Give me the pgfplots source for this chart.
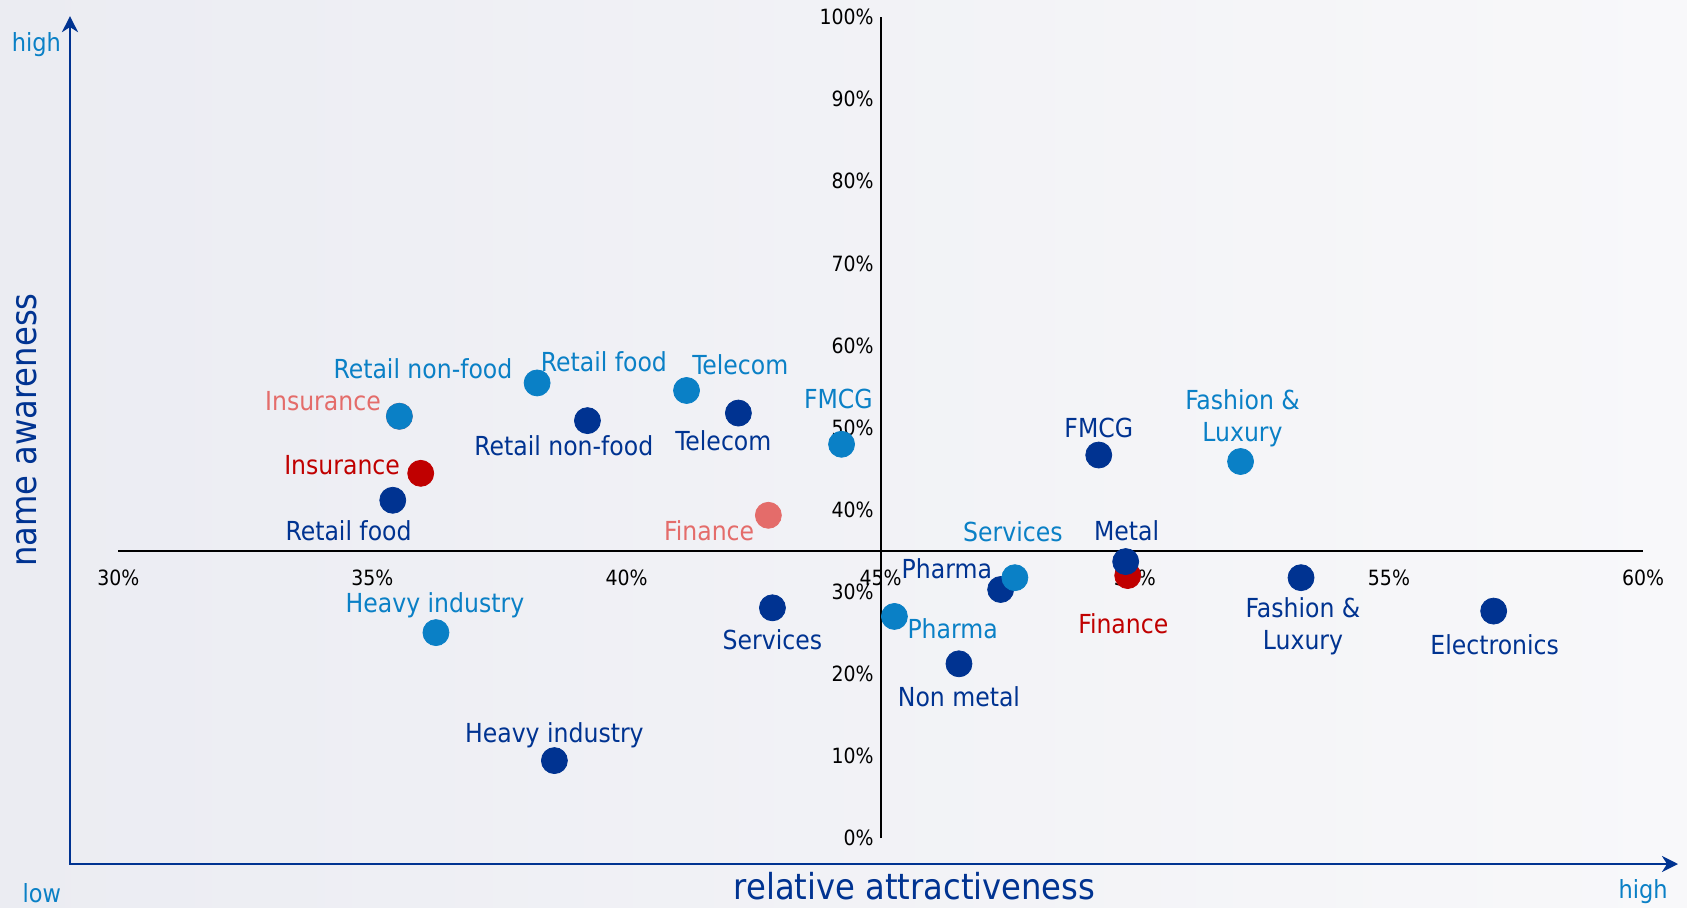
\documentclass[border=0pt]{standalone}
\usepackage{fontspec}
\setmainfont{DejaVu Sans Condensed}
\usepackage{pgfplots}
\pgfplotsset{compat=1.18}
\usepackage{pgfplotstable}
\usetikzlibrary{arrows.meta}

\definecolor{darkb}{HTML}{003391}
\definecolor{lightb}{HTML}{0A80C6}
\definecolor{redc}{HTML}{C00000}
\definecolor{salmon}{HTML}{E46C6A}
\definecolor{bgl}{HTML}{EBECF2}
\definecolor{bgr}{HTML}{F8F8FA}

% x = relative attractiveness (%), y = name awareness (%), dx/dy = label offset (pt)
\pgfplotstableread{
x y dx dy lbl
39.23 50.85 -11.8 -12.4 {Retail non-food}
42.20 51.77 -7.5 -14.0 {Telecom}
35.40 41.15 -22.1 -15.1 {Retail food}
49.29 46.66 0 13.5 {FMCG}
49.82 33.68 0.5 15.6 {Metal}
53.27 31.72 1 -24.2 {Fashion \&\\Luxury}
57.06 27.65 0.5 -16.7 {Electronics}
47.36 30.28 -26.9 10.2 {Pharma}
46.54 21.23 0 -16.7 {Non metal}
42.87 28.05 0 -16.1 {Services}
38.58 9.44 0 12.9 {Heavy industry}
}\darkdata

\pgfplotstableread{
x y dx dy lbl
35.53 51.38 11.8 23.7 {Retail non-food}
38.24 55.44 33.4 10.8 {Retail food}
41.18 54.52 26.9 12.9 {Telecom}
44.23 47.97 -1.6 22.6 {FMCG}
52.08 45.87 1 21.5 {Fashion \&\\Luxury}
47.64 31.72 -1 23.1 {Services}
45.27 27.00 29.1 -5.9 {Pharma}
36.25 25.03 -0.5 13.5 {Heavy industry}
}\lightdata

\pgfplotstableread{
x y dx dy lbl
35.95 44.43 -39.3 4.3 {Insurance}
49.86 31.98 -2.2 -24.2 {Finance}
}\reddata

\pgfplotstableread{
x y dx dy lbl
42.79 39.32 -29.6 -7.5 {Finance}
35.53 51.38 -38.2 7.5 {Insurance}
}\salmondata

\pgfplotsset{
  lbl/.style={
    only marks, mark=*, mark size=6.5pt,
    color=#1, mark options={solid, fill=#1, draw=#1},
    nodes near coords, point meta=explicit symbolic,
    visualization depends on={\thisrow{dx}\as\mydx},
    visualization depends on={\thisrow{dy}\as\mydy},
    every node near coord/.append style={anchor=center, xshift=\mydx pt, yshift=\mydy pt,
      text=#1, font=\fontsize{13.1}{16.2}\selectfont, align=center, inner sep=0pt},
  }
}

\begin{document}
\begin{tikzpicture}
\shade[left color=bgl, right color=bgr] (-59.15pt,-34.45pt) rectangle (784.35pt,419.05pt);
\path[use as bounding box] (-59.15pt,-34.45pt) rectangle (784.35pt,419.05pt);
\begin{axis}[
  at={(0,0)}, anchor=south west,
  scale only axis, width=762.4pt, height=410.5pt,
  xmin=30, xmax=60, ymin=0, ymax=100,
  clip=false,
  axis line style={draw=none},
  major tick length=0pt,
  xtick={30,35,...,60}, ytick={0,10,...,100},
  /pgf/number format/assume math mode=true,
  xticklabel={\pgfmathprintnumber{\tick}\%},
  yticklabel={\pgfmathprintnumber{\tick}\%},
  xticklabel style={font=\fontsize{10.5}{12}\selectfont, yshift=137.7pt},
  yticklabel style={font=\fontsize{10.5}{12}\selectfont, xshift=381.2pt},
]
\draw[black, line width=1.1pt] (axis cs:30,35) -- (axis cs:60,35);
\draw[black, line width=1.1pt] (axis cs:45,0) -- (axis cs:45,100);
\addplot[lbl=redc] table[x=x, y=y, meta=lbl] {\reddata};
\addplot[lbl=salmon] table[x=x, y=y, meta=lbl] {\salmondata};
\addplot[lbl=darkb] table[x=x, y=y, meta=lbl] {\darkdata};
\addplot[lbl=lightb] table[x=x, y=y, meta=lbl] {\lightdata};
\end{axis}
\draw[darkb, line width=1.4pt, {Stealth[length=8pt,width=8pt,inset=2.5pt]}-{Stealth[length=8pt,width=8pt,inset=2.5pt]}]
  (-24.15pt,411pt) -- (-24.15pt,-12.95pt) -- (779.85pt,-12.95pt);
\node[text=lightb, font=\fontsize{12.5}{14}\selectfont, inner sep=0pt] at (-40.9pt,396.5pt) {high};
\node[text=lightb, font=\fontsize{12.5}{14}\selectfont, inner sep=0pt] at (-38.2pt,-27.5pt) {low};
\node[text=lightb, font=\fontsize{12.5}{14}\selectfont, inner sep=0pt] at (762.4pt,-26.9pt) {high};
\node[text=darkb, font=\fontsize{17.9}{20}\selectfont, rotate=90, inner sep=0pt] at (-45.7pt,204pt) {name awareness};
\node[text=darkb, font=\fontsize{17.9}{20}\selectfont, inner sep=0pt] at (398.1pt,-23.8pt) {relative attractiveness};
\end{tikzpicture}
\end{document}
